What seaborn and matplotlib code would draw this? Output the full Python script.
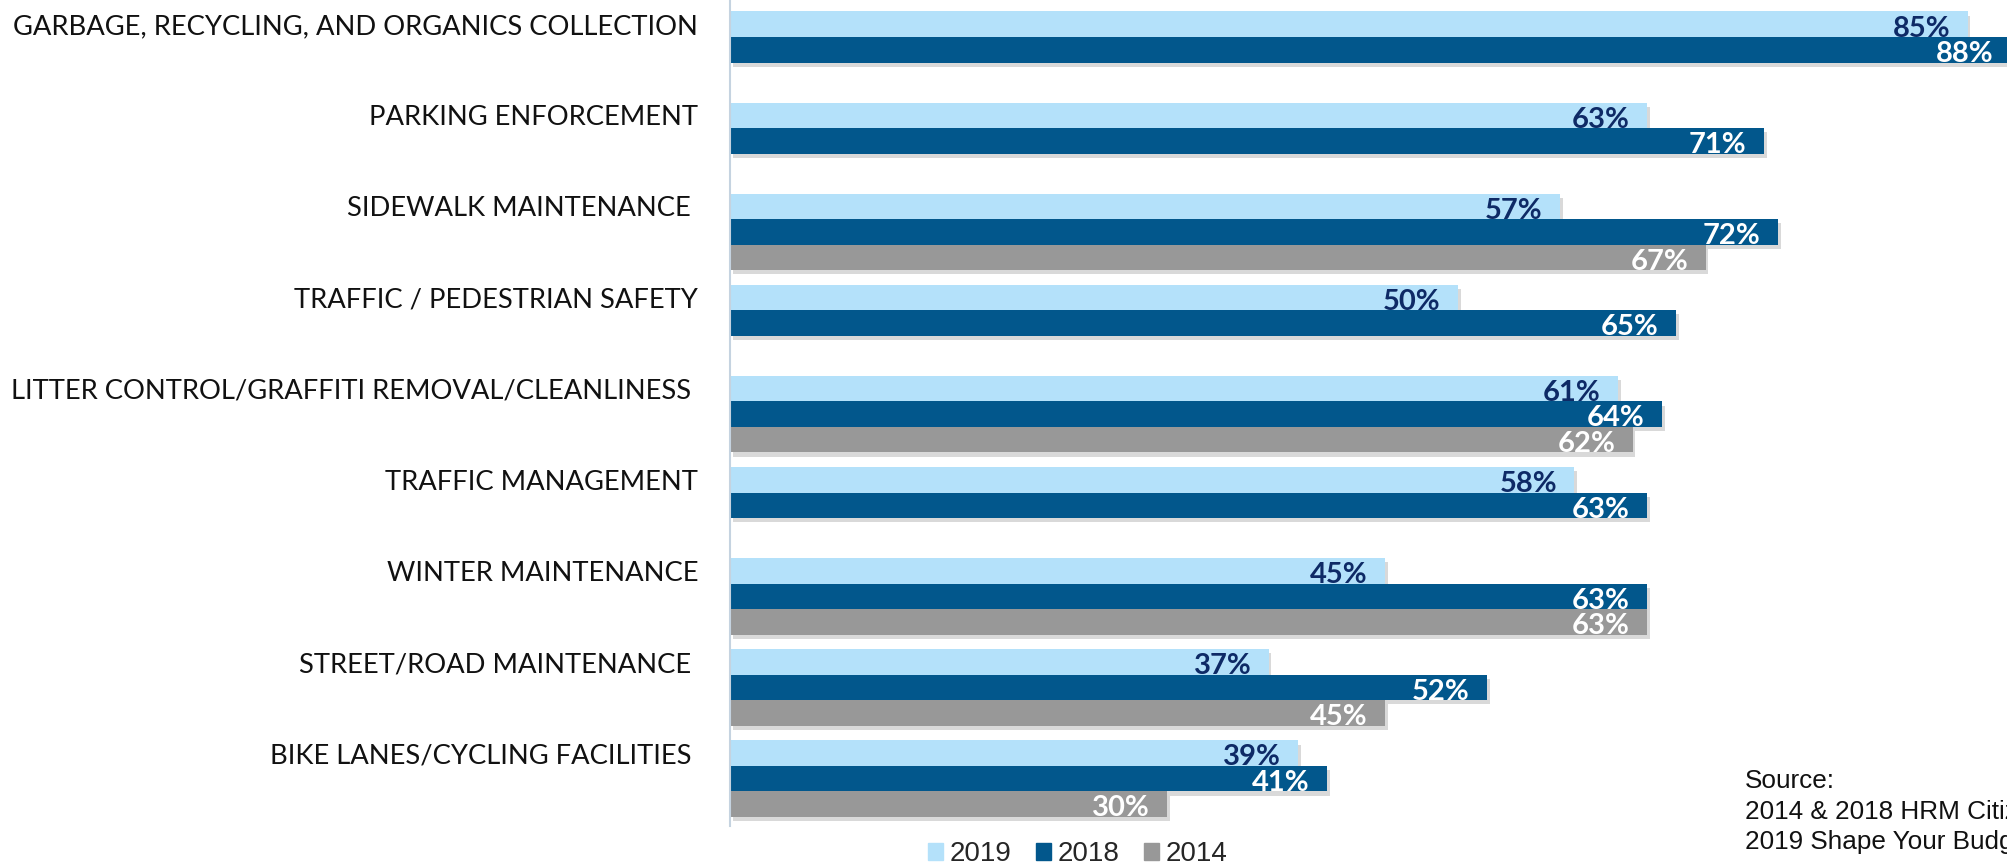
import numpy as np
import pandas as pd
import matplotlib
matplotlib.use("Agg")
import matplotlib.pyplot as plt
import matplotlib.patheffects as pe
from matplotlib.patches import Rectangle
import seaborn as sns

categories = [
    "GARBAGE, RECYCLING, AND ORGANICS COLLECTION",
    "PARKING ENFORCEMENT",
    "SIDEWALK MAINTENANCE ",
    "TRAFFIC / PEDESTRIAN SAFETY",
    "LITTER CONTROL/GRAFFITI REMOVAL/CLEANLINESS ",
    "TRAFFIC MANAGEMENT",
    "WINTER MAINTENANCE",
    "STREET/ROAD MAINTENANCE ",
    "BIKE LANES/CYCLING FACILITIES ",
]
years = ["2019", "2018", "2014"]
v2019 = [85, 63, 57, 50, 61, 58, 45, 37, 39]
v2018 = [88, 71, 72, 65, 64, 63, 63, 52, 41]
v2014 = [np.nan, np.nan, 67, np.nan, 62, np.nan, 63, 45, 30]
source_lines = ["Source:", "2014 & 2018 HRM Citizen Survey", "2019 Shape Your Budget"]

colors = {"2019": "#B4E1FA", "2018": "#02578C", "2014": "#989898"}
label_colors = {"2019": "#0E2A66", "2018": "white", "2014": "white"}

rows = []
for yr, vals in zip(years, [v2019, v2018, v2014]):
    for c, v in zip(categories, vals):
        rows.append({"category": c, "year": yr, "value": v})
df = pd.DataFrame(rows)

sns.set_theme(style="white")
plt.rcParams["font.family"] = ["Lato", "DejaVu Sans"]

fig = plt.figure(figsize=(20.07, 8.64), dpi=100)
ax = fig.add_axes([730 / 2007, 38 / 864, 1 - 730 / 2007, 826 / 864])

sns.barplot(data=df, x="value", y="category", hue="year", hue_order=years,
            order=categories, palette=colors, width=0.84, orient="h",
            linewidth=0, saturation=1, errorbar=None, legend=False, ax=ax)

shadow = [pe.SimplePatchShadow(offset=(2, -3), alpha=0.22, shadow_rgbFace="#555555"), pe.Normal()]
for cont, yr in zip(ax.containers, years):
    for bar in cont:
        w = bar.get_width()
        if not np.isfinite(w) or w <= 0:
            bar.set_visible(False)
            continue
        bar.set_path_effects(shadow)
        ax.text(w - 1.2, bar.get_y() + bar.get_height() - 0.005, f"{int(round(w))}%",
                ha="right", va="baseline", fontsize=21, fontweight="bold",
                color=label_colors[yr], family=["Lato", "DejaVu Sans"], zorder=5,
                clip_on=False)

ax.set_xlim(0, (2007 - 730) / 14.56)
ax.set_ylim(8.52, -0.546)
ax.set_xlabel("")
ax.set_ylabel("")
ax.set_xticks([])
offset = 0.84 / 3
ax.set_yticks(np.arange(len(categories)) - offset)
ax.set_yticklabels(categories, fontsize=19.7, color="#111111")
ax.tick_params(axis="y", length=0, pad=23)
for s in ["top", "right", "bottom"]:
    ax.spines[s].set_visible(False)
ax.spines["left"].set_color("#C5D3E0")
ax.spines["left"].set_linewidth(1.5)

handles = [Rectangle((0, 0), 1, 1, color=colors[y]) for y in years]
fig.legend(handles, years, loc="center", bbox_to_anchor=(0.537, 0.011), ncol=3,
           frameon=False, handlelength=0.55, handleheight=0.55, handletextpad=0.25,
           columnspacing=0.86, borderpad=0.1,
           prop={"family": "Liberation Sans", "size": 20})

for i, line in enumerate(source_lines):
    fig.text(1745 / 2007, 1 - (788 + 30.5 * i) / 864, line,
             ha="left", va="baseline", fontsize=18.8, family="Liberation Sans",
             color="#111111")

fig.savefig("out.png", dpi=100)
